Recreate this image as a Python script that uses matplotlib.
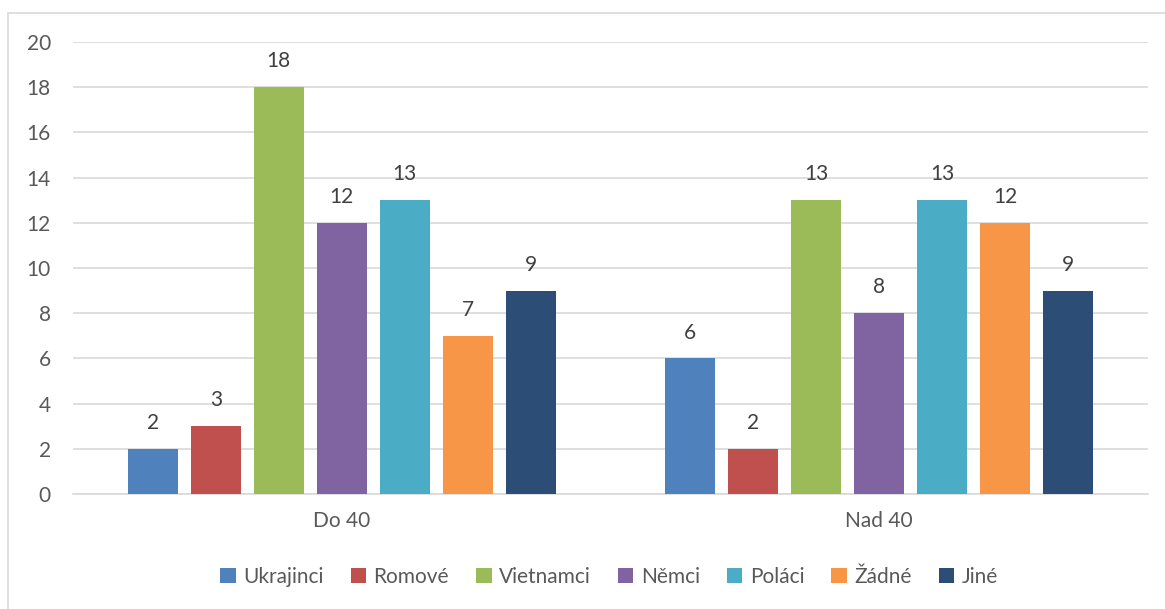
import matplotlib
matplotlib.use("Agg")
from matplotlib import pyplot as plt
from matplotlib.patches import Rectangle
import numpy as np

# data
groups = ["Do 40", "Nad 40"]
series = ["Ukrajinci", "Romové", "Vietnamci", "Němci", "Poláci", "Žádné", "Jiné"]
values = {
    "Ukrajinci": [2, 6],
    "Romové": [3, 2],
    "Vietnamci": [18, 13],
    "Němci": [12, 8],
    "Poláci": [13, 13],
    "Žádné": [7, 12],
    "Jiné": [9, 9],
}
colors = ["#4f81bd", "#c0504d", "#9bbb59", "#8064a2", "#4bacc6", "#f79646", "#2c4d75"]
yticks = [0, 2, 4, 6, 8, 10, 12, 14, 16, 18, 20]

plt.rcParams['font.family'] = ['Lato', 'DejaVu Sans']
txt = "#595959"
fs = 15

fig = plt.figure(figsize=(11.65, 6.09), dpi=100)
ax = fig.add_axes([73/1165, 1-494/609, (1148-73)/1165, (494-42)/609])

# chart border (only top/left visible in the picture)
fig.patches.append(Rectangle((8/1165, -0.05), 1.2, 1-13/609+0.05, transform=fig.transFigure,
                             fill=False, edgecolor="#d9d9d9", linewidth=1.2))

x = np.arange(len(groups))
step = 63/538
w = 50/538
for i, s in enumerate(series):
    pos = x + (i - 3) * step
    bars = ax.bar(pos, values[s], width=w, color=colors[i], label=s, zorder=3)
    for b, v in zip(bars, values[s]):
        ax.text(b.get_x() + b.get_width()/2, v + 0.7, str(v), ha="center", va="bottom",
                fontsize=fs, color="#404040")

ax.set_xlim(-0.5, 1.5)
ax.set_ylim(0, 20)
ax.set_yticks(yticks)
ax.set_xticks(x)
ax.set_xticklabels(groups)
ax.grid(axis="y", color="#d9d9d9", linewidth=1.2, zorder=0)
for sp in ["top", "right", "left"]:
    ax.spines[sp].set_visible(False)
ax.spines["bottom"].set_color("#d9d9d9")
ax.spines["bottom"].set_linewidth(1.2)
ax.tick_params(axis="both", length=0, labelsize=fs, colors=txt)
ax.tick_params(axis="y", pad=16)
ax.tick_params(axis="x", pad=12)

leg = fig.legend(loc="center", bbox_to_anchor=(609/1165, 1-577/609), ncol=7, frameon=False,
                 fontsize=fs, handlelength=0.75, handleheight=0.75, handletextpad=0.35,
                 columnspacing=1.3)
for t in leg.get_texts():
    t.set_color(txt)

fig.savefig("out.png", dpi=100)
